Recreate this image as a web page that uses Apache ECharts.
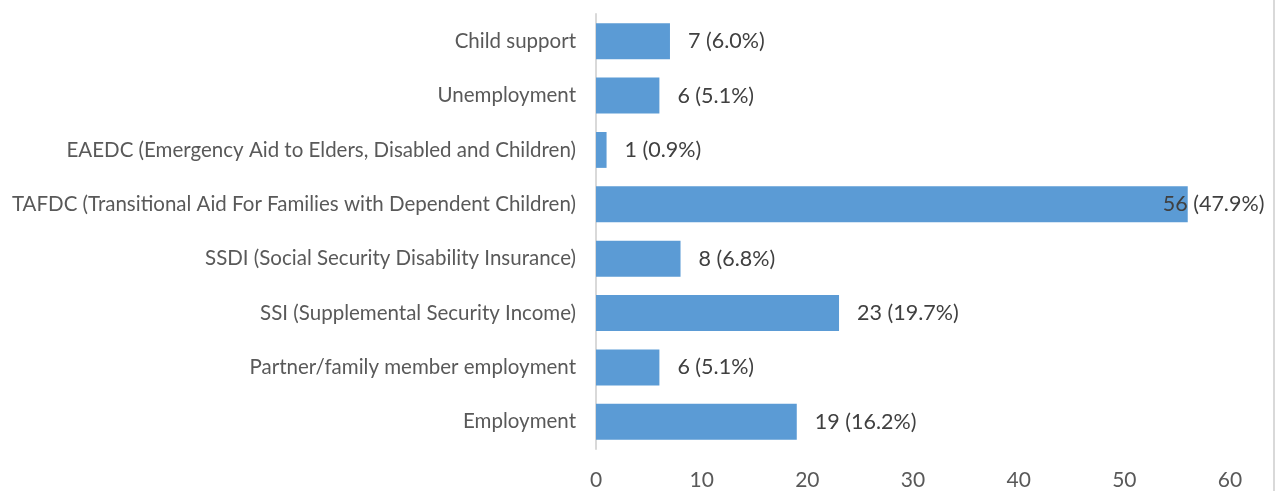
<!DOCTYPE html>
<html>
<head>
<meta charset="utf-8">
<script src="https://cdn.jsdelivr.net/npm/echarts@6/dist/echarts.min.js"></script>
<style>
  html, body { margin: 0; padding: 0; background: #fff; }
  #chart { width: 1280px; height: 491px; }
</style>
</head>
<body>
<div id="chart"></div>
<script>
// Income sources, listed bottom to top on the category axis
const categories = [
  'Employment',
  'Partner/family member employment',
  'SSI (Supplemental Security Income)',
  'SSDI (Social Security Disability Insurance)',
  'TAFDC (Transitional Aid For Families with Dependent Children)',
  'EAEDC (Emergency Aid to Elders, Disabled and Children)',
  'Unemployment',
  'Child support'
];
const counts = [19, 6, 23, 8, 56, 1, 6, 7];
const percents = ['16.2%', '5.1%', '19.7%', '6.8%', '47.9%', '0.9%', '5.1%', '6.0%'];
const xTicks = [0, 10, 20, 30, 40, 50, 60];

const FONT = 'Lato';
const chart = echarts.init(document.getElementById('chart'), null, { renderer: 'canvas' });

const seriesData = counts.map((v, i) => {
  const item = { value: v, pct: percents[i] };
  // the longest bar's label would run past the frame, so it is pulled back over the bar end
  if (v === Math.max(...counts)) item.label = { distance: -25 };
  return item;
});

chart.setOption({
  animation: false,
  backgroundColor: '#fff',
  grid: { left: 596, right: 50, top: 14, bottom: 40, containLabel: false },
  xAxis: {
    type: 'value',
    min: xTicks[0],
    max: xTicks[xTicks.length - 1],
    interval: xTicks[1] - xTicks[0],
    axisLine: { show: false },
    axisTick: { show: false },
    splitLine: { show: false },
    axisLabel: { color: '#595959', fontFamily: FONT, fontSize: 21, margin: 21 }
  },
  yAxis: {
    type: 'category',
    data: categories,
    axisLine: { show: true, lineStyle: { color: '#D9D9D9', width: 2 } },
    axisTick: { show: false },
    axisLabel: { color: '#595959', fontFamily: FONT, fontSize: 20.5, margin: 20 }
  },
  series: [{
    type: 'bar',
    data: seriesData,
    barCategoryGap: '34%',
    itemStyle: { color: '#5B9BD5' },
    label: {
      show: true,
      position: 'right',
      distance: 18,
      color: '#404040',
      fontFamily: FONT,
      fontSize: 21.5,
      formatter: p => p.value + ' (' + p.data.pct + ')'
    }
  }],
  graphic: [{
    type: 'line',
    shape: { x1: 1274, y1: 0, x2: 1274, y2: 491 },
    style: { stroke: '#D9D9D9', lineWidth: 2 }
  }]
});
</script>
</body>
</html>
